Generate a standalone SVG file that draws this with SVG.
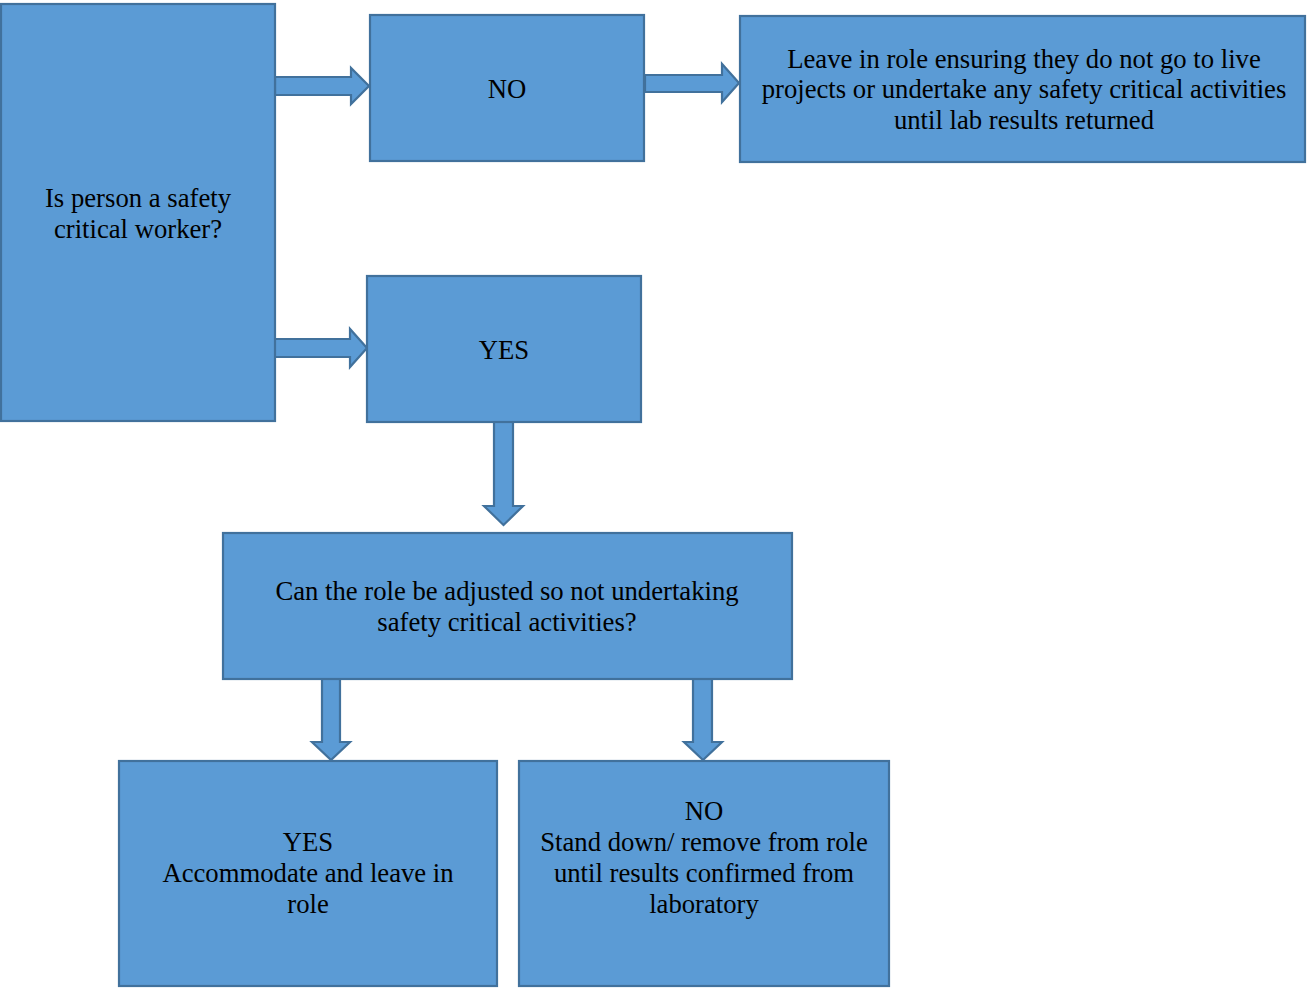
<svg xmlns="http://www.w3.org/2000/svg" width="1307" height="988" viewBox="0 0 1307 988">
<style>
.box{fill:#5B9BD5;stroke:#41719C;stroke-width:2.2}
.arr{fill:#5B9BD5;stroke:#41719C;stroke-width:2.2;stroke-linejoin:miter}
text{font-family:"Liberation Serif","Times New Roman",serif;font-size:26.7px;fill:#000;text-anchor:middle}
</style>
<rect width="1307" height="988" fill="#fff"/>
<g id="connectors">
<path class="arr" d="M275,77 H351 V68 L369,86 L351,104 V95 H275 Z"/>
<path class="arr" d="M273,339 H350 V329 L367,348 L350,367 V357 H273 Z"/>
<path class="arr" d="M645,75 H722 V64 L739,83 L722,102 V92 H645 Z"/>
<path class="arr" d="M494,422 V506 H484 L503.5,525 L523,506 H513 V422 Z"/>
<path class="arr" d="M322,679 V742 H312 L331,760 L350,742 H340 V679 Z"/>
<path class="arr" d="M693,679 V742 H684 L703,760 L722,742 H712 V679 Z"/>
</g>
<g id="n1"><rect class="box" x="1" y="4" width="274" height="417"/>
<text x="138" y="207">Is person a safety</text><text x="138" y="238">critical worker?</text></g>
<g id="n2"><rect class="box" x="370" y="15" width="274" height="146"/>
<text x="507" y="98">NO</text></g>
<g id="n3"><rect class="box" x="740" y="16" width="565" height="146"/>
<text x="1024" y="68">Leave in role ensuring they do not go to live</text>
<text x="1024" y="98">projects or undertake any safety critical activities</text>
<text x="1024" y="129">until lab results returned</text></g>
<g id="n4"><rect class="box" x="367" y="276" width="274" height="146"/>
<text x="504" y="359">YES</text></g>
<g id="n5"><rect class="box" x="223" y="533" width="569" height="146"/>
<text x="507" y="600">Can the role be adjusted so not undertaking</text>
<text x="507" y="631">safety critical activities?</text></g>
<g id="n6"><rect class="box" x="119" y="761" width="378" height="225"/>
<text x="308" y="851">YES</text><text x="308" y="882">Accommodate and leave in</text><text x="308" y="913">role</text></g>
<g id="n7"><rect class="box" x="519" y="761" width="370" height="225"/>
<text x="704" y="820">NO</text><text x="704" y="851">Stand down/ remove from role</text><text x="704" y="882">until results confirmed from</text><text x="704" y="913">laboratory</text></g>
</svg>
